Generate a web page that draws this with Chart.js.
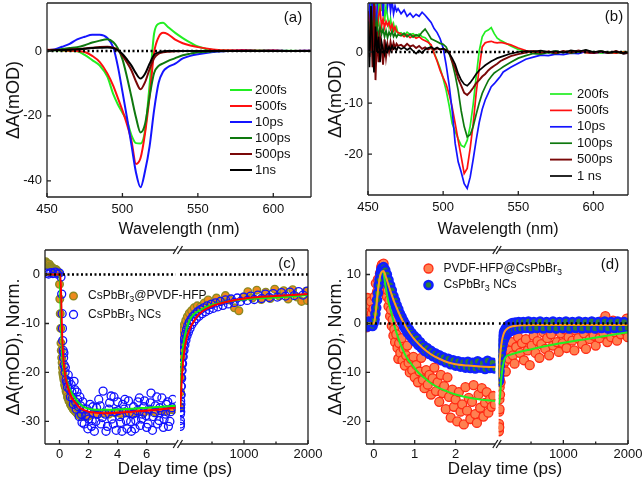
<!DOCTYPE html>
<html>
<head>
<meta charset="utf-8">
<script src="https://cdn.jsdelivr.net/npm/chart.js@4.4.1/dist/chart.umd.min.js"></script>
<style>
  body { margin: 0; background: #fff; }
  #fig { position: relative; width: 644px; height: 484px; background: #fff; }
  #fig canvas { position: absolute; }
</style>
</head>
<body>
<div id="fig">
  <canvas id="pa" width="322" height="240" style="left:0;top:0"></canvas>
  <canvas id="pb" width="322" height="240" style="left:322px;top:0"></canvas>
  <canvas id="pc" width="322" height="244" style="left:0;top:240px"></canvas>
  <canvas id="pd" width="322" height="244" style="left:322px;top:240px"></canvas>
</div>
<script>
// ---------- panel (a): spectra, CsPbBr3@PVDF-HFP ----------
const waveA = [450,455,460,465,470,475,480,485,490,494,497,500,503,506,509,512,515,518,521,524,527,530,535,540,545,550,560,570,580,590,600,610,625];
const a200fs = [0.3,0.2,0.1,0,-0.1,-1.2,-2.8,-4.5,-7.9,-13.4,-16.5,-19,-21.5,-26,-28.4,-28.5,-24.5,-10.5,5.4,8.4,8.7,7.5,5.6,4.0,2.6,1.4,0.3,0.1,0,0.1,0,0.1,0];
const a500fs = [0.4,0.3,0.2,0.1,0,-0.3,-1.5,-3.4,-6.9,-10.8,-14.5,-18.3,-22.6,-27.7,-34.8,-33,-25.3,-14,-0.5,4.3,5.6,5.2,3.5,2.4,1.7,1.2,0.5,0.2,0.3,0.1,0.2,0,0.1];
const a10ps  = [0.2,0.5,1.3,2.2,3.6,4.4,5.0,5.0,4.0,1.0,-4.8,-12.5,-20.5,-29,-37.5,-42,-37,-29.4,-18.2,-9.8,-6.3,-5.0,-3.9,-2.3,-1.5,-1.0,-0.3,0,0.1,0,0.1,0,0.1];
const a100ps = [0.2,0.3,0.6,0.9,1.2,1.8,2.6,3.2,3.6,2.7,0.8,-2.5,-8,-14.2,-20.5,-25.1,-22.5,-14,-6.8,-4.6,-3.8,-3.1,-2.2,-1.3,-0.8,-0.4,-0.1,0,0,0.1,0,0,0];
const a500ps = [0.3,0.4,0.3,0.5,0.6,0.8,1.0,1.2,1.3,1.0,0.3,-1.4,-3.5,-6,-9.4,-11.8,-9.6,-5.6,-2.2,-0.8,-0.4,-0.2,-0.1,0,0,0,0,0,0,0,0,0,0];
const a1ns   = [0.1,0.2,0.3,0.4,0.5,0.7,0.9,1.0,1.1,0.9,0.2,-0.9,-2.6,-4.5,-6.9,-8.5,-7,-3.9,-1.2,-0.4,-0.1,0,0,0,0,0,0,0,0,0,0,0,0];
const ticksAx = [450, 500, 550, 600];
const ticksAy = [0, -20, -40];

// ---------- panel (b): spectra, CsPbBr3 NCs ----------
const waveB = [450,451,452,453,454,455,456,457,458,459,460,461,462,463,464,465,466,467,468,469,470,
  472,474,476,478,480,482,484,486,488,490,492,494,496,498,500,502,504,506,508,510,512,514,516,518,520,522,524,526,528,530,532,534,536,538,540,
  545,550,555,560,565,570,575,580,585,590,595,600,605,610,615,620,625];
const b200fs = [2,6,11,4,13,9,12,5,14,8,11,6,9,7,5,6.5,4.5,5.5,4,4.8,3.6,
  3.8,3.2,3.9,3.4,3.6,3.1,3.5,3.0,2.8,2.2,1.0,-0.2,-1.6,-3.2,-5.2,-7.5,-10.5,-14,-15.5,-17,-18.3,-18.6,-17.3,-14.5,-10.2,-4.8,0.2,3.0,4.0,4.3,4.8,3.6,2.7,2.3,2.0,
  1.2,0.5,0.1,-0.2,0.1,-0.1,0.2,-0.1,0,0.2,-0.1,0.1,-0.2,0,-0.2,0.1,-0.1];
const b500fs = [3,8,5,10,6,9,4,7,8.5,5,6.5,4.8,6,5.2,5.8,4.5,5.4,4.2,4.9,4.0,3.8,
  3.5,3.0,3.4,2.8,3.2,2.7,3.0,2.5,2.2,1.9,1.4,-0.3,-1.8,-3.6,-5.0,-6.3,-8.3,-10.8,-14,-17.3,-20.5,-23.8,-22.8,-18.8,-14,-8,-3.2,1.0,1.8,2.0,2.1,1.9,1.8,1.9,1.8,
  1.4,0.8,0.3,0,-0.2,0.1,-0.1,0,-0.2,0.1,-0.1,-0.2,0,-0.1,-0.2,0,-0.2];
const b10ps = [4,9,14,6,12,3,8,15,11,13,7,12,14,9,11,8,10,7.5,9,8,8.5,
  7.5,8.2,7.0,7.6,6.8,7.4,7.0,7.8,7.2,6.5,5.8,4.6,3.8,2.6,0.8,-2.5,-6.5,-11.4,-17.9,-21.5,-23.5,-25.8,-26.7,-24.5,-21,-17.2,-13.8,-11.2,-9.4,-8.1,-6.8,-6.2,-5.5,-4.8,-3.9,
  -3.0,-2.2,-1.4,-1.0,-0.6,-0.7,-0.4,-0.5,-0.2,-0.3,0.1,-0.2,0,-0.2,0.1,-0.3,-0.1];
const b100ps = [5,2,7,3,9,4,6,2.5,5,3.5,4.5,3,4.2,2.8,3.9,3.2,4.1,3.0,3.6,2.9,3.4,
  3.2,3.7,3.0,3.5,2.9,3.4,3.1,3.9,4.5,3.6,2.6,2.3,2.0,1.7,1.5,1.0,-0.3,-2.0,-4.5,-7.5,-11.5,-14.6,-16.6,-16.2,-14.6,-12.2,-10,-8.1,-6.8,-5.6,-4.8,-4.1,-3.7,-3.3,-2.9,
  -2.0,-1.2,-0.7,-0.3,-0.4,-0.1,-0.3,0.1,-0.2,0,0.3,-0.1,0.2,-0.2,0,-0.3,0];
const b500ps = [8,-1,6,-3,10,-5.5,4,-2,3,1,-2.5,2.5,-1,1.5,0,2,0.5,1.8,0.8,1.6,1.2,
  1.4,1.0,1.6,1.1,1.3,0.8,1.2,0.6,0.9,0.5,0.8,0.4,0.7,0.5,0.6,0.4,0,-1.8,-3.2,-5.2,-6.6,-8.0,-8.4,-7.8,-7.0,-6.1,-5.5,-4.8,-4.3,-3.6,-3.1,-2.7,-2.3,-1.8,-1.5,
  -0.8,-0.4,-0.1,0.2,-0.1,0.1,-0.2,0.2,-0.1,0.3,0,-0.2,0.1,-0.2,0.2,-0.3,-0.1];
const b1ns = [6,-3,9,1,-4,5,0,3,-2,2,0.5,-0.5,1.5,0.2,1.0,0.4,1.2,0.6,0.9,0.3,1.0,
  0.6,0.9,0.4,0.8,0.2,-0.3,0.3,-0.2,0.5,0.8,1.0,0.6,0.9,0.5,0.7,0.3,-0.3,-1.2,-2.4,-4.2,-5.5,-6.3,-6.6,-6.0,-5.2,-4.3,-3.6,-3.1,-2.6,-2.2,-1.8,-1.5,-1.2,-1.0,-0.8,
  -0.3,0,0.2,0.1,0.3,0,0.2,-0.1,0.3,0.1,0.4,0,0.2,-0.1,0.1,-0.2,0];
const ticksBy = [0, -10, -20];

// ---------- panel (c): kinetics, [delay ps, value] ----------
const cPvdfL = [[-0.95,2.6],[-0.9,2.3],[-0.85,2.2],[-0.8,1.9],[-0.7,2.1],[-0.65,1.8],[-0.6,1.6],[-0.55,1.5],[-0.5,1.4],[-0.45,1.2],[-0.4,1.1],[-0.35,0.9],[-0.3,0.8],[-0.25,1.0],[-0.2,0.9],[-0.15,0.7],[-0.1,0.5],[-0.05,0.2],[0,-2],[0.02,-5],[0.05,-8],[0.08,-11],[0.1,-14],[0.12,-15.5],[0.15,-17],[0.18,-18],[0.2,-19],[0.22,-20],[0.25,-20.5],[0.28,-21],[0.3,-21.5],[0.35,-22.5],[0.4,-23],[0.45,-23.8],[0.5,-24.2],[0.55,-25],[0.6,-25.3],[0.65,-25.8],[0.7,-26],[0.75,-26.5],[0.8,-26.7],[0.85,-27],[0.9,-27.2],[0.95,-27.5],[1.0,-27.6],[1.1,-28],[1.2,-28.3],[1.3,-28.6],[1.4,-28.8],[1.5,-29],[1.6,-28.9],[1.7,-28.8],[1.8,-28.7],[1.9,-29],[2.0,-28.9],[2.3,-28.5],[2.6,-28.6],[3.0,-28.3],[3.4,-28.5],[3.8,-28.2],[4.2,-28.4],[4.6,-28.1],[5.0,-28.3],[5.4,-28.0],[5.8,-28.2],[6.2,-27.9],[6.6,-28.1],[7.0,-27.8],[7.4,-27.9],[7.8,-27.6]];
const cNcL = [[-0.9,0.3],[-0.75,0.1],[-0.6,0.4],[-0.45,0.2],[-0.3,0.5],[-0.15,0.1],[0,0.3],[0.1,-0.5],[0.15,-4],[0.18,-8],[0.2,-11],[0.22,-13.5],[0.25,-15.5],[0.28,-17],[0.3,-16],[0.32,-18.5],[0.38,-20],[0.4,-19],[0.45,-21.5],[0.5,-22],[0.55,-23],[0.6,-20.5],[0.65,-21.8],[0.7,-23.5],[0.75,-25],[0.8,-22.5],[0.85,-24],[0.9,-25.2],[0.95,-26.5],[1.0,-21.8],[1.05,-23.5],[1.1,-26],[1.15,-27.5],[1.2,-24],[1.25,-25.5],[1.3,-27],[1.35,-29],[1.4,-25],[1.45,-26.8],[1.5,-28.5],[1.55,-30.2],[1.6,-26],[1.65,-27.5],[1.7,-30.5],[1.8,-28.8],[1.9,-27.5],[1.95,-31.5],[2.0,-29.5],[2.1,-26.5],[2.2,-31],[2.25,-29.8],[2.3,-27],[2.4,-32],[2.5,-30],[2.55,-27.2],[2.6,-28.5],[2.7,-25.5],[2.8,-26.8],[2.85,-30.5],[2.95,-29.2],[3.0,-23.8],[3.15,-28.5],[3.2,-32],[3.3,-31],[3.4,-27.5],[3.45,-26.2],[3.55,-24.8],[3.6,-29.5],[3.7,-30.5],[3.75,-25],[3.85,-28],[3.9,-31.8],[4.0,-26],[4.05,-27.8],[4.15,-29],[4.2,-30.2],[4.3,-32],[4.35,-26.5],[4.45,-27.5],[4.5,-25.5],[4.6,-29.8],[4.65,-31.5],[4.75,-25.8],[4.8,-28.2],[4.9,-30],[4.95,-32],[5.05,-28.5],[5.1,-27],[5.2,-31.5],[5.25,-29.8],[5.35,-27.8],[5.4,-26],[5.5,-25.2],[5.55,-30.8],[5.65,-29.5],[5.7,-28.5],[5.8,-27],[5.85,-25.8],[5.95,-28.8],[6.0,-31.2],[6.1,-30.5],[6.15,-27.5],[6.25,-26.2],[6.3,-24.2],[6.4,-31.8],[6.45,-29],[6.55,-28.2],[6.6,-26.8],[6.7,-25],[6.75,-30.5],[6.85,-29.8],[6.9,-27.2],[7.0,-27.8],[7.05,-25.2],[7.15,-31.2],[7.2,-29.5],[7.3,-28.5],[7.35,-26.5],[7.45,-26],[7.5,-31],[7.6,-30],[7.65,-28],[7.75,-27.2],[7.8,-25.5]];
const cFitRedL = [[-1,0],[0.05,0],[0.1,-3],[0.15,-9],[0.2,-14],[0.3,-18.5],[0.4,-20.8],[0.6,-23.2],[0.8,-24.9],[1.1,-26.2],[1.4,-27.2],[1.7,-27.7],[2.0,-28.0],[2.5,-28.2],[3,-28.3],[4,-28.2],[5,-28.0],[6,-27.8],[7,-27.5],[8,-27.2]];
const cFitGreenL = [[-1,0],[0,0],[0.05,-4],[0.1,-10],[0.15,-14.5],[0.2,-17.1],[0.3,-19.8],[0.4,-20.8],[0.6,-22.6],[0.8,-24.0],[1.0,-24.9],[1.3,-26.1],[1.6,-26.9],[2.0,-27.4],[2.5,-27.6],[3.5,-27.6],[5,-27.4],[6,-27.2],[7,-27.0],[8,-26.8]];
const cPvdfR = [[5,-27],[8,-24],[11,-21],[14,-19],[18,-17],[23,-15.5],[30,-14],[40,-12.5],[55,-11.2],[70,-10.2],[90,-9.4],[115,-8.6],[145,-7.9],[180,-7.4],[220,-6.8],[270,-6.4],[320,-6.6],[380,-5.8],[440,-5.2],[500,-5.9],[570,-4.8],[640,-5.5],[710,-4.3],[780,-5.2],[850,-6.8],[920,-7.4],[990,-4.6],[1060,-3.5],[1130,-4.8],[1200,-3.2],[1270,-5.1],[1340,-3.6],[1410,-4.9],[1480,-3.0],[1550,-4.4],[1620,-3.3],[1690,-5.0],[1760,-3.1],[1830,-4.6],[1900,-5.5],[1970,-3.4],[1990,-5.3]];
const cNcR = [[5,-31],[6,-29.8],[7,-28.5],[8,-30.5],[9,-27.2],[10,-25.8],[11,-28],[12,-24.5],[13,-26.5],[15,-22.8],[17,-24.6],[19,-21],[21,-22.8],[23,-19.6],[26,-21.2],[29,-18.2],[32,-19.6],[36,-16.8],[40,-18.2],[45,-15.5],[50,-16.8],[56,-14.3],[62,-15.5],[69,-13.2],[76,-14.4],[84,-12.2],[92,-13.4],[101,-11.3],[110,-12.5],[120,-10.5],[131,-11.8],[143,-9.8],[156,-11.0],[170,-9.2],[185,-10.2],[200,-8.6],[218,-9.6],[236,-8.1],[255,-9.0],[275,-7.6],[297,-8.5],[320,-7.2],[345,-8.0],[370,-6.8],[397,-7.6],[425,-6.4],[455,-7.2],[487,-6.1],[520,-6.9],[555,-5.8],[592,-6.6],[630,-5.5],[670,-6.3],[712,-5.2],[755,-6.0],[800,-5.0],[847,-5.7],[895,-4.8],[945,-5.5],[997,-4.6],[1050,-5.3],[1105,-4.4],[1160,-5.1],[1217,-4.2],[1275,-4.9],[1335,-4.0],[1395,-4.7],[1457,-3.9],[1520,-4.6],[1585,-3.7],[1650,-4.4],[1717,-3.6],[1785,-4.3],[1853,-3.5],[1922,-4.2],[1990,-3.4]];
const cFitRedR = [[5,-27],[26,-21.9],[52,-17.1],[104,-13],[182,-10.3],[312,-7.9],[495,-6.5],[755,-5.5],[1068,-4.8],[1484,-4.4],[2000,-4.0]];
const cFitGreenR = [[5,-27],[26,-18.5],[52,-14.4],[104,-11],[182,-8.6],[312,-7.3],[495,-6.2],[755,-5.5],[1068,-5.0],[1484,-4.7],[2000,-4.2]];
const ticksCy = [0, -10, -20, -30];
const ticksCxL = [0, 2, 4, 6];
const ticksXR = [1000, 2000];
const minorXR = [500, 1500];

// ---------- panel (d): kinetics, [delay ps, value] ----------
const dPvdfL = [[-0.18,-0.8],[-0.17,2.5],[-0.15,5.2],[-0.13,1.0],[-0.11,3.8],[-0.09,-0.5],[-0.07,4.5],[-0.05,2.0],[-0.03,0.5],[-0.01,3.0],[0.02,5.5],[0.05,8.2],[0.08,6.5],[0.1,9.0],[0.13,7.5],[0.15,10.2],[0.18,11.5],[0.2,12.0],[0.22,11.2],[0.24,12.2],[0.26,10.0],[0.28,7.0],[0.3,8.5],[0.32,5.5],[0.34,6.8],[0.36,3.5],[0.38,4.8],[0.4,1.5],[0.42,2.8],[0.44,-0.5],[0.46,0.8],[0.48,-2.5],[0.5,-1.2],[0.52,-3.8],[0.55,-2.2],[0.58,-5.0],[0.6,-7.2],[0.62,-4.0],[0.65,-6.0],[0.68,-3.0],[0.7,-7.5],[0.73,-5.2],[0.76,-8.6],[0.79,-6.5],[0.82,-4.5],[0.85,-8.0],[0.88,-10.0],[0.91,-7.2],[0.94,-9.5],[0.97,-6.8],[1.0,-11.0],[1.04,-8.5],[1.08,-12.0],[1.12,-9.8],[1.16,-7.0],[1.2,-11.5],[1.24,-13.2],[1.28,-9.5],[1.32,-12.5],[1.36,-10.5],[1.4,-14.5],[1.44,-11.2],[1.48,-9.0],[1.52,-13.8],[1.56,-12.0],[1.6,-16.0],[1.64,-10.5],[1.68,-14.2],[1.72,-12.8],[1.76,-17.5],[1.8,-11.0],[1.84,-15.0],[1.88,-19.2],[1.92,-13.5],[1.96,-17.0],[2.0,-15.5],[2.04,-20.0],[2.08,-14.0],[2.12,-18.0],[2.16,-16.5],[2.2,-20.6],[2.24,-13.0],[2.28,-17.8],[2.32,-15.2],[2.36,-19.5],[2.4,-16.0],[2.44,-12.6],[2.48,-18.5],[2.52,-20.3],[2.56,-14.5],[2.6,-17.2],[2.64,-13.2],[2.68,-19.0],[2.72,-16.2],[2.76,-14.0],[2.8,-18.2],[2.84,-15.5],[2.88,-17.0],[2.92,-14.8],[2.96,-16.5]];
const dNcL = [[-0.18,0.2],[-0.15,-0.6],[-0.12,0.4],[-0.09,-0.4],[-0.06,0.3],[-0.03,-0.5],[0,0.2],[0.02,0.8],[0.04,2.0],[0.06,3.2],[0.08,4.8],[0.1,6.2],[0.12,7.8],[0.14,9.0],[0.16,10.1],[0.18,10.8],[0.2,11.3],[0.22,11.0],[0.24,11.5],[0.26,10.6],[0.28,10.9],[0.3,9.8],[0.32,10.0],[0.34,8.8],[0.36,8.9],[0.38,7.6],[0.4,7.8],[0.42,6.5],[0.44,6.8],[0.46,5.5],[0.48,5.6],[0.5,4.4],[0.52,4.7],[0.54,3.4],[0.56,3.7],[0.58,2.5],[0.6,2.9],[0.62,1.7],[0.64,2.0],[0.66,0.9],[0.68,1.3],[0.7,0.1],[0.72,0.6],[0.74,-0.6],[0.76,0],[0.78,-1.2],[0.8,-0.6],[0.83,-1.9],[0.86,-1.2],[0.89,-2.5],[0.92,-1.9],[0.95,-3.1],[0.98,-2.5],[1.01,-3.7],[1.05,-3.0],[1.09,-4.4],[1.13,-3.8],[1.17,-5.0],[1.21,-4.5],[1.25,-5.6],[1.3,-5.0],[1.35,-6.2],[1.4,-5.6],[1.45,-6.7],[1.5,-6.1],[1.55,-7.1],[1.6,-6.5],[1.65,-7.5],[1.7,-6.9],[1.76,-7.9],[1.82,-7.2],[1.88,-8.3],[1.94,-7.5],[2.0,-8.6],[2.06,-7.7],[2.12,-8.8],[2.18,-7.9],[2.24,-9.0],[2.3,-7.8],[2.36,-9.1],[2.42,-8.0],[2.48,-9.2],[2.54,-7.7],[2.6,-9.0],[2.66,-8.1],[2.72,-9.3],[2.78,-7.6],[2.84,-9.1],[2.9,-8.0],[2.96,-9.2]];
const dFitOrangeL = [[-0.19,0],[0,0],[0.05,2.5],[0.1,6.5],[0.15,9.5],[0.2,10.6],[0.24,10.7],[0.3,9.4],[0.4,6.8],[0.5,4.4],[0.6,2.4],[0.7,0.6],[0.8,-0.9],[0.9,-2.2],[1.0,-3.3],[1.2,-5.0],[1.4,-6.3],[1.6,-7.2],[1.8,-7.9],[2.0,-8.3],[2.3,-8.6],[2.6,-8.8],[2.97,-8.9]];
const dFitGreenL = [[-0.19,0],[0,0],[0.05,2.5],[0.1,6.5],[0.15,9.5],[0.2,10.5],[0.23,10.5],[0.28,8.0],[0.35,4.8],[0.44,1.8],[0.52,-0.9],[0.6,-3.0],[0.69,-5.0],[0.8,-6.9],[0.93,-8.4],[1.1,-10.1],[1.25,-11.2],[1.4,-12.2],[1.6,-13.2],[1.8,-13.9],[2.0,-14.5],[2.3,-15.1],[2.6,-15.5],[2.97,-15.8]];
const dPvdfR = [[3,-22],[5,-20.5],[7,-18],[9,-21.2],[11,-15.5],[13,-17.5],[15,-13],[18,-11.5],[21,-14.5],[25,-9.5],[29,-12],[34,-8],[40,-10],[47,-7],[55,-9.2],[63,-6.2],[72,-8.5],[82,-5.5],[95,-7.8],[110,-9.8],[125,-6.0],[140,-4.5],[160,-7.2],[180,-5.5],[200,-3.8],[220,-6.5],[245,-8.2],[270,-4.8],[300,-2.8],[330,-6.0],[360,-4.0],[390,-7.5],[420,-3.2],[450,-5.5],[480,-8.5],[510,-4.5],[540,-2.5],[570,-6.0],[600,-3.6],[630,-7.0],[660,-4.2],[690,-1.8],[720,-5.2],[750,-3.0],[780,-6.5],[810,-2.2],[840,-4.5],[870,-0.8],[900,-3.8],[930,-5.8],[960,-2.0],[990,-4.0],[1020,-1.2],[1050,-5.0],[1080,-2.8],[1110,-0.2],[1140,-3.5],[1170,-5.5],[1200,-1.5],[1230,-3.0],[1260,0.2],[1290,-4.2],[1320,-2.0],[1350,-5.2],[1380,-1.0],[1410,-3.2],[1440,0.3],[1470,-2.5],[1500,-4.5],[1530,-1.2],[1560,-3.0],[1590,0.5],[1620,-2.0],[1650,1.5],[1680,-3.8],[1710,-1.0],[1740,-2.8],[1770,0.6],[1800,-1.8],[1830,-3.5],[1860,-0.5],[1890,-2.2],[1920,0.2],[1950,-1.5],[1980,1.0],[1995,-2.8]];
const dNcR = [[3,-11.8],[5,-9.5],[7,-10.8],[9,-8.5],[12,-9.8],[15,-7.2],[18,-8.6],[22,-6.0],[26,-7.4],[30,-4.8],[35,-6.4],[40,-3.9],[46,-5.2],[52,-3.0],[60,-4.3],[68,-2.2],[77,-3.4],[87,-1.6],[98,-2.8],[110,-1.0],[123,-2.2],[137,-0.5],[152,-1.8],[170,-0.2],[190,-1.5],[210,0.1],[232,-1.3],[255,0.2],[280,-1.1],[310,0.3],[345,-1.0],[380,0.3],[420,-0.9],[460,0.4],[500,-1.0],[545,0.3],[590,-0.9],[640,0.4],[690,-1.0],[740,0.3],[790,-0.9],[840,0.4],[890,-1.0],[940,0.3],[990,-0.9],[1040,0.4],[1090,-1.0],[1140,0.3],[1190,-0.9],[1240,0.4],[1290,-1.0],[1340,0.3],[1390,-0.9],[1440,0.4],[1490,-1.0],[1540,0.3],[1590,-0.9],[1640,0.4],[1690,-1.0],[1740,0.3],[1790,-0.9],[1840,0.4],[1890,-1.0],[1940,0.3],[1990,-0.9]];
const dFitOrangeR = [[3,-11],[15,-8],[30,-5.5],[50,-3.5],[75,-2.2],[100,-1.5],[150,-0.9],[200,-0.6],[300,-0.4],[600,-0.3],[2000,-0.3]];
const dFitGreenR = [[5,-16.5],[20,-15],[46,-10.5],[97,-7.1],[175,-6.4],[458,-5.4],[973,-4.0],[1488,-2.9],[2000,-1.8]];
const ticksDy = [10, 0, -10, -20];
const ticksDxL = [0, 1, 2];

// ---------- helpers ----------
const FONT = '"Liberation Sans", Arial, sans-serif';
const INK = '#111';

function xy(xs, ys) { return xs.map((x, i) => ({x: x, y: ys[i]})); }
function pr(list) { return list.map(p => ({x: p[0], y: p[1]})); }

function curve(label, data, color, order, extra) {
  return Object.assign({label: label, data: data, showLine: true, borderColor: color, backgroundColor: color,
    borderWidth: 2, pointRadius: 0, fill: false, order: order}, extra || {});
}
function zeroLine(x0, x1, xid) {
  return {label: '', data: [{x: x0, y: 0}, {x: x1, y: 0}], showLine: true, borderColor: '#000',
    borderWidth: 2.5, borderDash: [2, 2.5], pointRadius: 0, order: 0, xAxisID: xid || 'x'};
}

function yAxis(o) {
  return {
    type: 'linear', position: 'left', min: o.min, max: o.max,
    afterBuildTicks: s => { s.ticks = o.ticks.map(v => ({value: v})); },
    afterFit: s => { s.width = o.width; s.paddingTop = 0; s.paddingBottom = 0; },
    grid: {display: false, drawTicks: false}, border: {display: false},
    ticks: {color: INK, padding: 5, font: {family: FONT, size: 13}, callback: v => String(v)},
    title: {display: true, text: o.title, color: INK, padding: {top: 3, bottom: 0}, font: {family: FONT, size: 18}}
  };
}
function xAxis(o) {
  return {
    type: 'linear', axis: 'x', position: 'bottom', min: o.min, max: o.max,
    stack: o.stack, stackWeight: o.weight || 1,
    afterBuildTicks: s => { s.ticks = (o.ticks || []).map(v => ({value: v})); },
    afterFit: s => { s.height = o.height; s.paddingLeft = 0; s.paddingRight = 0; },
    grid: {display: false, drawTicks: false}, border: {display: false},
    ticks: {display: !!o.ticks, color: INK, padding: o.pad || 5, autoSkip: false, maxRotation: 0,
      font: {family: FONT, size: 13}, callback: v => String(v)},
    title: {display: !!o.title, text: o.title || '', color: INK, padding: {top: 0, bottom: 1}, font: {family: FONT, size: 16}}
  };
}

// text with subscript 3
function drawRich(ctx, text, x, y, size) {
  const parts = text.split(/(₃)/);
  let cx = x;
  parts.forEach(p => {
    if (!p) return;
    if (p === '₃') {
      ctx.font = Math.round(size * 0.78) + 'px ' + FONT;
      ctx.fillText('3', cx, y + size * 0.3);
      cx += ctx.measureText('3').width;
    } else {
      ctx.font = size + 'px ' + FONT;
      ctx.fillText(p, cx, y);
      cx += ctx.measureText(p).width;
    }
  });
}

// box, inward ticks and axis break marks
const frame = {
  id: 'frame',
  afterDatasetsDraw(chart, args, o) {
    const {ctx, chartArea: ca, scales} = chart;
    ctx.save();
    ctx.strokeStyle = '#222';
    ctx.lineWidth = 1.3;
    ctx.beginPath();
    ctx.moveTo(ca.left, ca.top); ctx.lineTo(ca.left, ca.bottom);
    ctx.moveTo(ca.right, ca.top); ctx.lineTo(ca.right, ca.bottom);
    const segs = o.broken ? [[ca.left, scales.x.right], [scales.x2.left, ca.right]] : [[ca.left, ca.right]];
    segs.forEach(s => {
      [ca.top, ca.bottom].forEach(y => { ctx.moveTo(s[0], y); ctx.lineTo(s[1], y); });
    });
    ctx.stroke();
    ctx.beginPath();
    Object.values(scales).forEach(sc => {
      if (!sc.options.ticks.display) return;
      const mark = (v, len) => {
        const p = sc.getPixelForValue(v);
        if (sc.isHorizontal()) { ctx.moveTo(p, ca.bottom); ctx.lineTo(p, ca.bottom - len); }
        else { ctx.moveTo(ca.left, p); ctx.lineTo(ca.left + len, p); }
      };
      sc.ticks.forEach(t => mark(t.value, 4));
      ((o.minor || {})[sc.id] || []).forEach(v => mark(v, 2.5));
    });
    ctx.stroke();
    if (o.broken) {
      ctx.beginPath();
      [scales.x.right, scales.x2.left].forEach(ex => {
        [ca.top, ca.bottom].forEach(y => { ctx.moveTo(ex - 2.5, y + 4); ctx.lineTo(ex + 2.5, y - 4); });
      });
      ctx.stroke();
    }
    ctx.restore();
  }
};

// legend drawn inside the plot
const inLegend = {
  id: 'inLegend',
  afterDraw(chart, args, o) {
    if (!o.items) return;
    const ctx = chart.ctx;
    ctx.save();
    ctx.textBaseline = 'middle';
    ctx.textAlign = 'left';
    o.items.forEach((di, i) => {
      const ds = chart.data.datasets[di];
      const y = o.y + i * o.dy;
      if (o.kind === 'line') {
        ctx.strokeStyle = ds.borderColor;
        ctx.lineWidth = ds.borderWidth;
        ctx.beginPath(); ctx.moveTo(o.x, y); ctx.lineTo(o.x + o.len, y); ctx.stroke();
      } else {
        ctx.beginPath();
        ctx.arc(o.x, y, ds.pointRadius, 0, Math.PI * 2);
        ctx.fillStyle = ds.pointBackgroundColor; ctx.fill();
        ctx.strokeStyle = ds.pointBorderColor; ctx.lineWidth = ds.pointBorderWidth; ctx.stroke();
      }
      ctx.fillStyle = INK;
      drawRich(ctx, ds.label, o.tx, y, o.size);
    });
    ctx.restore();
  }
};

// free text: panel tag and shared axis title
const notes = {
  id: 'notes',
  afterDraw(chart, args, o) {
    const ctx = chart.ctx;
    ctx.save();
    ctx.fillStyle = INK;
    ctx.textAlign = 'center';
    ctx.textBaseline = 'middle';
    (o.list || []).forEach(n => {
      ctx.font = n.size + 'px ' + FONT;
      ctx.fillText(n.text, n.x, n.y);
    });
    ctx.restore();
  }
};

function makeChart(id, datasets, scales, padding, plugOpts) {
  return new Chart(document.getElementById(id), {
    type: 'scatter',
    data: {datasets: datasets},
    options: {
      responsive: false, animation: false, events: [],
      layout: {padding: padding},
      scales: scales,
      plugins: Object.assign({legend: {display: false}, tooltip: {enabled: false}}, plugOpts)
    },
    plugins: [frame, inLegend, notes]
  });
}

// ---------- (a) ----------
makeChart('pa', [
  curve('200fs', xy(waveA, a200fs), '#22ee22', 6, {cubicInterpolationMode: 'monotone'}),
  curve('500fs', xy(waveA, a500fs), '#ff1010', 5, {cubicInterpolationMode: 'monotone'}),
  curve('10ps', xy(waveA, a10ps), '#1414ff', 4, {cubicInterpolationMode: 'monotone'}),
  curve('100ps', xy(waveA, a100ps), '#0e780e', 3, {cubicInterpolationMode: 'monotone'}),
  curve('500ps', xy(waveA, a500ps), '#7a0808', 2, {cubicInterpolationMode: 'monotone'}),
  curve('1ns', xy(waveA, a1ns), '#000000', 1, {cubicInterpolationMode: 'monotone'}),
  zeroLine(450, 625)
], {
  x: xAxis({min: 450, max: 625, ticks: ticksAx, height: 43, title: 'Wavelength (nm)'}),
  y: yAxis({min: -45, max: 14.8, ticks: ticksAy, width: 47, title: 'ΔA(mOD)'})
}, {top: 3, right: 11, left: 0, bottom: 0}, {
  frame: {},
  inLegend: {kind: 'line', items: [0, 1, 2, 3, 4, 5], x: 230, len: 22, tx: 255, y: 90, dy: 16, size: 13},
  notes: {list: [{text: '(a)', x: 293, y: 18, size: 15}]}
});

// ---------- (b) ----------
makeChart('pb', [
  curve('200fs', xy(waveB, b200fs), '#22ee22', 6, {borderWidth: 1.7}),
  curve('500fs', xy(waveB, b500fs), '#ff1010', 5, {borderWidth: 1.7}),
  curve('10ps', xy(waveB, b10ps), '#1414ff', 4, {borderWidth: 1.7}),
  curve('100ps', xy(waveB, b100ps), '#0e780e', 3, {borderWidth: 1.7}),
  curve('500ps', xy(waveB, b500ps), '#7a0808', 2, {borderWidth: 1.9}),
  curve('1 ns', xy(waveB, b1ns), '#000000', 1, {borderWidth: 1.7}),
  zeroLine(450, 623)
], {
  x: xAxis({min: 450, max: 623, ticks: ticksAx, height: 45, title: 'Wavelength (nm)'}),
  y: yAxis({min: -28, max: 9.6, ticks: ticksBy, width: 46, title: 'ΔA(mOD)'})
}, {top: 3, right: 16, left: 0, bottom: 0}, {
  frame: {},
  inLegend: {kind: 'line', items: [0, 1, 2, 3, 4, 5], x: 228, len: 22, tx: 255, y: 94, dy: 16.4, size: 13},
  notes: {list: [{text: '(b)', x: 292, y: 17, size: 15}]}
});

// ---------- (c) ----------
const cPvdfStyle = {showLine: false, pointRadius: 3.8, pointBackgroundColor: '#ee8a1c', pointBorderColor: '#8c8a22', pointBorderWidth: 1.4, order: 3};
const cNcStyle = {showLine: false, pointRadius: 4, pointBackgroundColor: 'rgba(255,255,255,0)', pointBorderColor: '#1010ff', pointBorderWidth: 1.3, order: 2};
makeChart('pc', [
  Object.assign({label: 'CsPbBr₃@PVDF-HFP', data: pr(cPvdfL), xAxisID: 'x'}, cPvdfStyle),
  Object.assign({label: 'CsPbBr₃ NCs', data: pr(cNcL), xAxisID: 'x'}, cNcStyle),
  Object.assign({label: 'CsPbBr₃@PVDF-HFP', data: pr(cPvdfR), xAxisID: 'x2'}, cPvdfStyle),
  Object.assign({label: 'CsPbBr₃ NCs', data: pr(cNcR), xAxisID: 'x2'}, cNcStyle),
  curve('fit', pr(cFitRedL), '#ff0000', 1, {xAxisID: 'x', cubicInterpolationMode: 'monotone'}),
  curve('fit', pr(cFitGreenL), '#10ee10', 1, {xAxisID: 'x', cubicInterpolationMode: 'monotone'}),
  curve('fit', pr(cFitRedR), '#ff0000', 1, {xAxisID: 'x2', cubicInterpolationMode: 'monotone'}),
  curve('fit', pr(cFitGreenR), '#10ee10', 1, {xAxisID: 'x2', cubicInterpolationMode: 'monotone'}),
  zeroLine(-1, 8, 'x'),
  zeroLine(0, 2000, 'x2')
], {
  x: xAxis({min: -1, max: 8, ticks: ticksCxL, height: 40, stack: 'brk', weight: 130.7, pad: 3}),
  xg: xAxis({min: 0, max: 1, height: 40, stack: 'brk', weight: 4.3}),
  x2: xAxis({min: 0, max: 2000, ticks: ticksXR, height: 40, stack: 'brk', weight: 128, pad: 3}),
  y: yAxis({min: -34.6, max: 5, ticks: ticksCy, width: 45, title: 'ΔA(mOD), Norm.'})
}, {top: 10, right: 14, left: 0, bottom: 0}, {
  frame: {broken: true, minor: {x2: minorXR}},
  inLegend: {kind: 'point', items: [0, 1], x: 73.5, tx: 88, y: 56, dy: 18.5, size: 12},
  notes: {list: [{text: '(c)', x: 287, y: 24, size: 15}, {text: 'Delay time (ps)', x: 175, y: 229, size: 17}]}
});

// ---------- (d) ----------
const dPvdfStyle = {showLine: false, pointRadius: 4.5, pointBackgroundColor: '#ff8050', pointBorderColor: '#ff2a14', pointBorderWidth: 1.3, order: 3};
const dNcStyle = {showLine: false, pointRadius: 4, pointBackgroundColor: '#2e7e3a', pointBorderColor: '#1020ff', pointBorderWidth: 2.6, order: 2};
makeChart('pd', [
  Object.assign({label: 'PVDF-HFP@CsPbBr₃', data: pr(dPvdfL), xAxisID: 'x'}, dPvdfStyle),
  Object.assign({label: 'CsPbBr₃ NCs', data: pr(dNcL), xAxisID: 'x'}, dNcStyle),
  Object.assign({label: 'PVDF-HFP@CsPbBr₃', data: pr(dPvdfR), xAxisID: 'x2'}, dPvdfStyle),
  Object.assign({label: 'CsPbBr₃ NCs', data: pr(dNcR), xAxisID: 'x2'}, dNcStyle),
  curve('fit', pr(dFitOrangeL), '#ff9a1a', 1, {xAxisID: 'x', cubicInterpolationMode: 'monotone'}),
  curve('fit', pr(dFitGreenL), '#22ee22', 1, {xAxisID: 'x', cubicInterpolationMode: 'monotone'}),
  curve('fit', pr(dFitOrangeR), '#ff9a1a', 1, {xAxisID: 'x2', cubicInterpolationMode: 'monotone'}),
  curve('fit', pr(dFitGreenR), '#22ee22', 1, {xAxisID: 'x2', cubicInterpolationMode: 'monotone'}),
  zeroLine(-0.19, 2.97, 'x'),
  zeroLine(0, 2000, 'x2')
], {
  x: xAxis({min: -0.19, max: 2.97, ticks: ticksDxL, height: 40, stack: 'brk', weight: 129.3, pad: 3}),
  xg: xAxis({min: 0, max: 1, height: 40, stack: 'brk', weight: 3.4}),
  x2: xAxis({min: 0, max: 2000, ticks: ticksXR, height: 40, stack: 'brk', weight: 129.3, pad: 3}),
  y: yAxis({min: -24.6, max: 15, ticks: ticksDy, width: 44, title: 'ΔA(mOD), Norm.'})
}, {top: 10, right: 16, left: 0, bottom: 0}, {
  frame: {broken: true, minor: {x2: minorXR}},
  inLegend: {kind: 'point', items: [0, 1], x: 106.5, tx: 121.5, y: 28.5, dy: 16.5, size: 12},
  notes: {list: [{text: '(d)', x: 288, y: 25, size: 15}, {text: 'Delay time (ps)', x: 183, y: 229, size: 17}]}
});
</script>
</body>
</html>
